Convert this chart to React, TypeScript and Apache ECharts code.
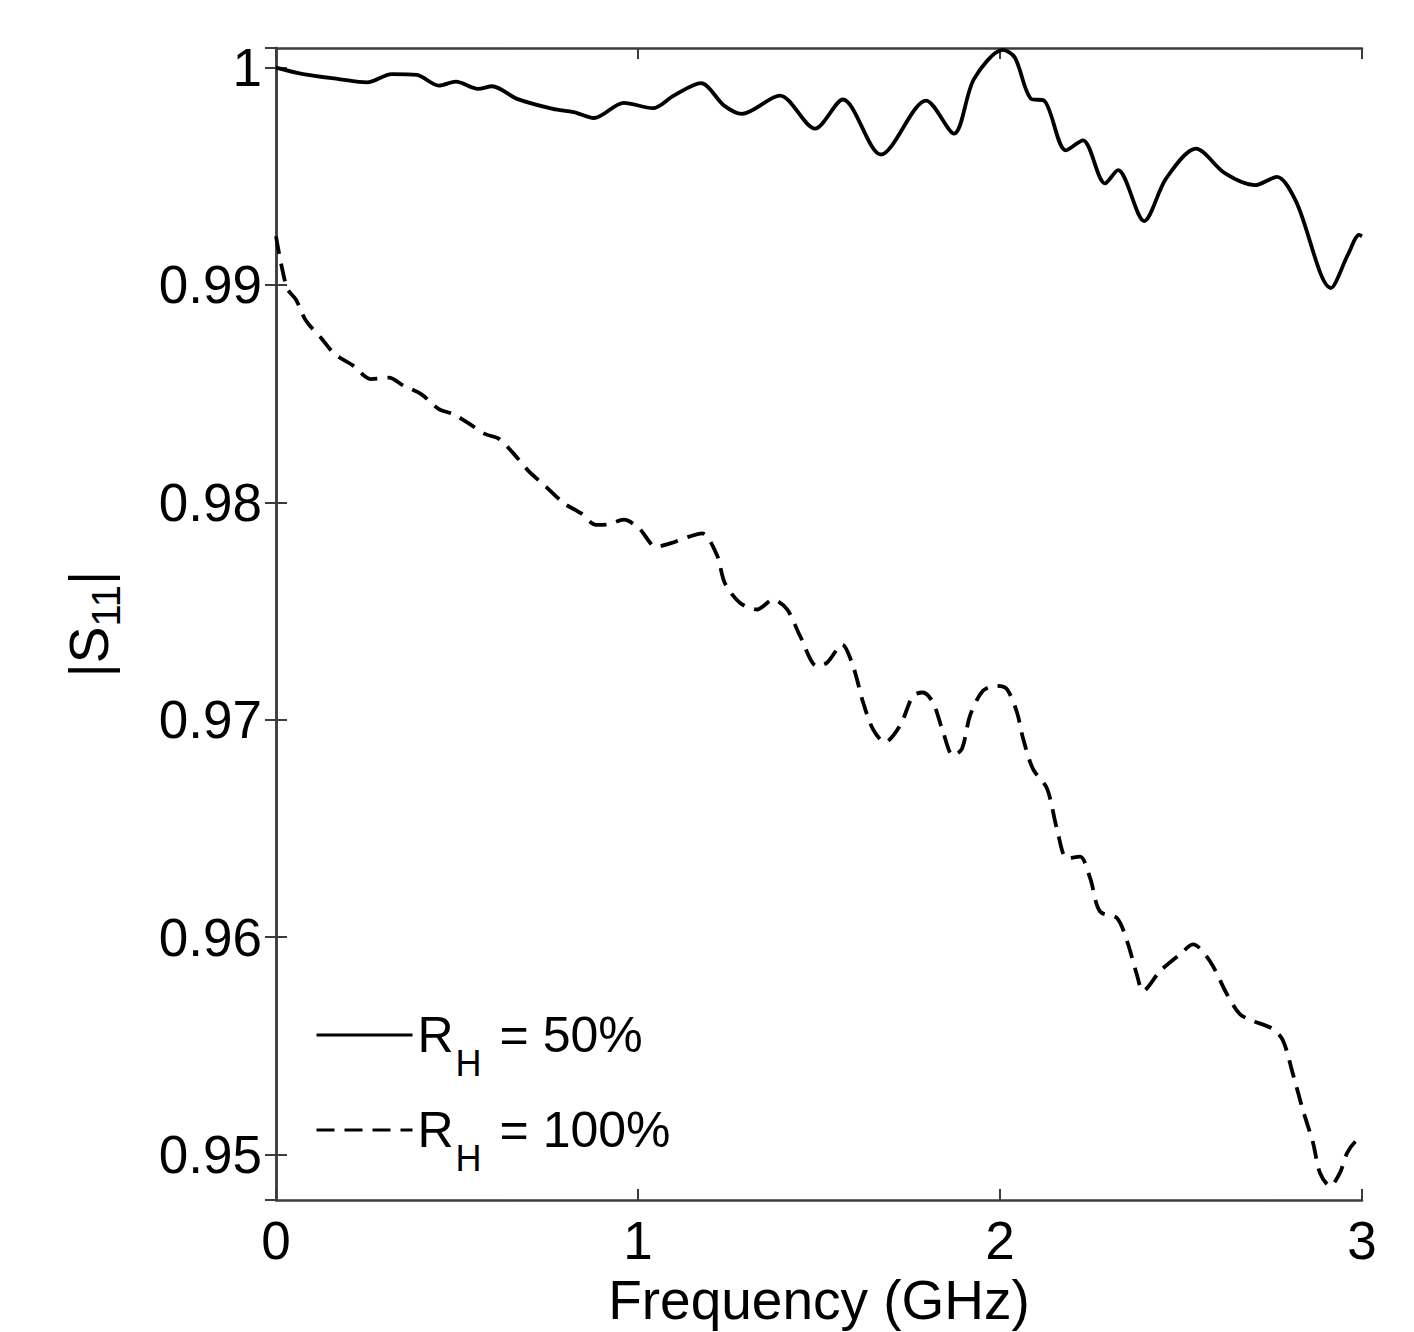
import React, { useEffect, useRef } from "react";
import * as echarts from "echarts";

// Frequency (GHz) and |S11|
const freq50 = [0, 0.075, 0.174, 0.251, 0.32, 0.389, 0.45, 0.497, 0.558, 0.597, 0.666, 0.765, 0.823, 0.878, 0.961, 1.041, 1.099, 1.174, 1.238, 1.287, 1.392, 1.489, 1.566, 1.671, 1.796, 1.873, 1.928, 2.008, 2.041, 2.086, 2.122, 2.182, 2.229, 2.29, 2.326, 2.398, 2.459, 2.541, 2.622, 2.704, 2.765, 2.818, 2.914, 2.961, 2.992, 3.0];
const s11_50 = [1.0, 0.9997, 0.99947, 0.99932, 0.9997, 0.99966, 0.99917, 0.99935, 0.99902, 0.99914, 0.99856, 0.9981, 0.99795, 0.99768, 0.99838, 0.99813, 0.99871, 0.99928, 0.99825, 0.99787, 0.99871, 0.99719, 0.99853, 0.996, 0.99848, 0.99696, 0.99947, 1.00081, 1.00046, 0.99856, 0.99848, 0.99619, 0.99665, 0.99467, 0.99528, 0.99294, 0.9949, 0.99627, 0.99513, 0.99459, 0.99497, 0.99383, 0.98986, 0.99139, 0.9923, 0.99224];

const freq100 = [0, 0.03, 0.055, 0.083, 0.124, 0.163, 0.213, 0.262, 0.312, 0.351, 0.401, 0.45, 0.489, 0.528, 0.577, 0.616, 0.657, 0.696, 0.746, 0.796, 0.843, 0.884, 0.912, 0.961, 1.003, 1.05, 1.091, 1.141, 1.177, 1.218, 1.24, 1.282, 1.329, 1.373, 1.412, 1.448, 1.494, 1.522, 1.564, 1.594, 1.622, 1.649, 1.682, 1.724, 1.76, 1.787, 1.815, 1.843, 1.87, 1.895, 1.917, 1.953, 1.992, 2.019, 2.047, 2.064, 2.091, 2.13, 2.157, 2.185, 2.221, 2.249, 2.276, 2.323, 2.351, 2.378, 2.395, 2.442, 2.497, 2.533, 2.58, 2.627, 2.663, 2.699, 2.754, 2.782, 2.809, 2.837, 2.865, 2.884, 2.912, 2.939, 2.959, 2.986, 3.0];
const s11_100 = [0.99224, 0.98986, 0.98933, 0.98835, 0.98757, 0.98681, 0.98629, 0.98567, 0.98574, 0.98538, 0.98498, 0.98429, 0.98406, 0.98368, 0.98315, 0.98292, 0.98223, 0.98147, 0.98071, 0.97995, 0.97949, 0.97896, 0.97897, 0.9792, 0.9788, 0.97796, 0.97812, 0.97842, 0.97857, 0.97758, 0.97628, 0.97537, 0.97507, 0.97552, 0.97507, 0.97384, 0.97247, 0.97262, 0.97346, 0.97247, 0.97079, 0.96957, 0.96896, 0.96973, 0.9711, 0.97125, 0.97079, 0.96942, 0.96835, 0.96866, 0.97018, 0.97133, 0.97156, 0.97141, 0.97033, 0.96912, 0.96774, 0.96683, 0.965, 0.96362, 0.9637, 0.96271, 0.96118, 0.96088, 0.95981, 0.95828, 0.95752, 0.95843, 0.9592, 0.95966, 0.95889, 0.95737, 0.95645, 0.95615, 0.95577, 0.95523, 0.95371, 0.95203, 0.95052, 0.94915, 0.94854, 0.94915, 0.95007, 0.95066, 0.9507];

const seriesNames = ["RH50", "RH100"];
const legendLabels: Record<string, string> = {
  RH50: "{r|R}{s|H}{t|= 50%}",
  RH100: "{r|R}{s|H}{t|= 100%}",
};
const xLabel = "Frequency (GHz)";
const yLabel = "|S{s|11}|";

const FONT = "'Liberation Sans', Arial, sans-serif";
const AXIS_COLOR = "#3c3c3c";

export default function App() {
  const ref = useRef<HTMLDivElement>(null);
  useEffect(() => {
    if (!ref.current) return;
    const chart = echarts.init(ref.current, undefined, { renderer: "svg" });
    const yMin = 0.9479;
    const yMax = 1.0009;
    const axisLine = { show: true, lineStyle: { color: AXIS_COLOR, width: 2.5 } };
    const tick = { show: true, inside: true, length: 11, lineStyle: { color: AXIS_COLOR, width: 2 } };
    chart.setOption({
      animation: false,
      backgroundColor: "#fff",
      grid: { left: 276, right: 52, top: 48, bottom: 126, containLabel: false },
      legend: {
        orient: "vertical",
        left: 310,
        top: 1005,
        itemWidth: 96,
        itemHeight: 20,
        itemGap: 24,
        data: seriesNames,
        formatter: (n: string) => legendLabels[n],
        itemStyle: { opacity: 0 },
        lineStyle: { width: 3 },
        textStyle: {
          fontFamily: FONT,
          color: "#000",
          rich: {
            r: { fontSize: 50, fontFamily: FONT, color: "#000" },
            s: { fontSize: 36, fontFamily: FONT, color: "#000", padding: [56, 0, 0, 2] },
            t: { fontSize: 50, fontFamily: FONT, color: "#000", padding: [0, 0, 0, 18] },
          },
        },
      },
      xAxis: [
        {
          type: "value",
          min: 0,
          max: 3,
          interval: 1,
          position: "bottom",
          name: xLabel,
          nameLocation: "middle",
          nameGap: 70,
          nameTextStyle: { fontSize: 55, fontFamily: FONT, color: "#000" },
          axisLine,
          axisTick: tick,
          axisLabel: { fontSize: 53, fontFamily: FONT, color: "#000", margin: 14 },
          splitLine: { show: false },
        },
        {
          type: "value",
          min: 0,
          max: 3,
          interval: 1,
          position: "top",
          axisLine,
          axisTick: tick,
          axisLabel: { show: false },
          splitLine: { show: false },
        },
      ],
      yAxis: [
        {
          type: "value",
          min: yMin,
          max: yMax,
          splitNumber: 5,
          position: "left",
          name: yLabel,
          nameLocation: "middle",
          nameRotate: 90,
          nameGap: 150,
          nameTextStyle: {
            fontSize: 55,
            fontFamily: FONT,
            color: "#000",
            rich: { s: { fontSize: 40, fontFamily: FONT, color: "#000", padding: [34, 0, 0, 0] } },
          },
          axisLine,
          axisTick: tick,
          axisLabel: {
            fontSize: 53,
            fontFamily: FONT,
            color: "#000",
            margin: 14,
            showMinLabel: false,
            showMaxLabel: false,
            formatter: (v: number) => String(Math.round(v * 100) / 100),
          },
          splitLine: { show: false },
        },
        {
          type: "value",
          min: yMin,
          max: yMax,
          splitNumber: 5,
          position: "right",
          axisLine,
          axisTick: tick,
          axisLabel: { show: false },
          splitLine: { show: false },
        },
      ],
      series: [
        {
          name: seriesNames[0],
          type: "line",
          data: freq50.map((f, i) => [f, s11_50[i]]),
          symbol: "none",
          smooth: 0.3,
          lineStyle: { color: "#000", width: 3.8, type: "solid" },
          itemStyle: { color: "#000" },
        },
        {
          name: seriesNames[1],
          type: "line",
          data: freq100.map((f, i) => [f, s11_100[i]]),
          symbol: "none",
          smooth: 0.3,
          lineStyle: { color: "#000", width: 3.8, type: [18, 10] },
          itemStyle: { color: "#000" },
        },
      ],
    });
    return () => chart.dispose();
  }, []);
  return (
    <div
      ref={ref}
      style={{ position: "absolute", left: 0, top: 0, width: 1414, height: 1332, background: "#fff" }}
    />
  );
}
